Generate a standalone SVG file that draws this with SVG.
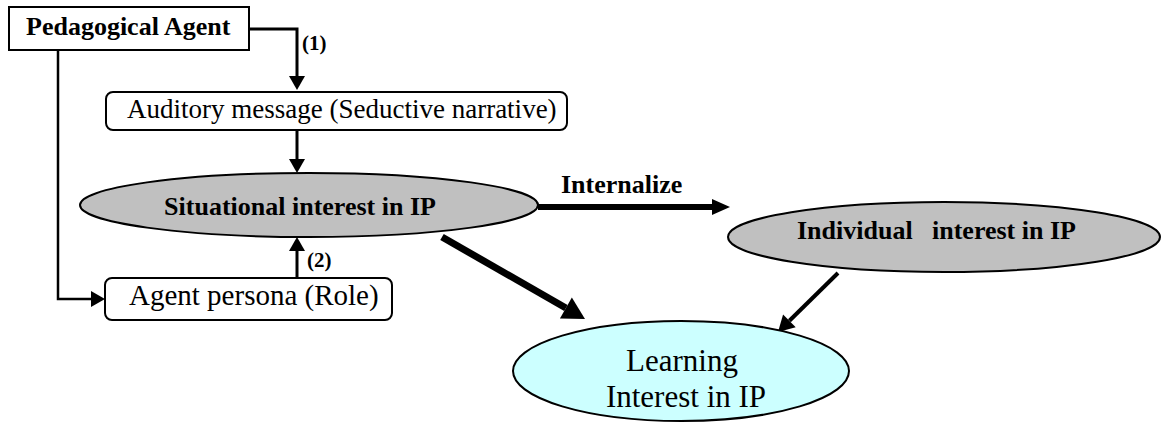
<svg xmlns="http://www.w3.org/2000/svg" width="1161" height="423" viewBox="0 0 1161 423">
<style>
.box{fill:#fff;stroke:#000;stroke-width:2}
.ell{fill:#c0c0c0;stroke:#000;stroke-width:2}
.ell2{fill:#ccffff;stroke:#000;stroke-width:2}
.b{font-family:"Liberation Serif","Times New Roman",serif;font-weight:bold;fill:#000}
.r{font-family:"Liberation Serif","Times New Roman",serif;fill:#000}
.c{fill:none;stroke:#000}
</style>
<defs>
<marker id="hS" markerUnits="userSpaceOnUse" markerWidth="14" markerHeight="16" refX="0" refY="8" orient="auto" overflow="visible"><path d="M0,0 L14,8 L0,16 z" fill="#000"/></marker>
<marker id="hM" markerUnits="userSpaceOnUse" markerWidth="18" markerHeight="16" refX="0" refY="8" orient="auto" overflow="visible"><path d="M0,0 L18,8 L0,16 z" fill="#000"/></marker>
<marker id="hL" markerUnits="userSpaceOnUse" markerWidth="22" markerHeight="24" refX="0" refY="12" orient="auto" overflow="visible"><path d="M0,0 L22,12 L0,24 z" fill="#000"/></marker>
<marker id="hI" markerUnits="userSpaceOnUse" markerWidth="16" markerHeight="18" refX="0" refY="9" orient="auto" overflow="visible"><path d="M0,0 L16,9 L0,18 z" fill="#000"/></marker>
</defs>
<g id="connectors">
<path class="c" d="M249,29 H297 V76" stroke-width="3" marker-end="url(#hS)"/>
<path class="c" d="M297,130 V159" stroke-width="3" marker-end="url(#hS)"/>
<path class="c" d="M297,278 V251" stroke-width="3" marker-end="url(#hS)"/>
<path class="c" d="M58,50 V299 H91" stroke-width="2.5" marker-end="url(#hS)"/>
<path class="c" d="M538,207 H712" stroke-width="6" marker-end="url(#hM)"/>
<path class="c" d="M442,237 L565.9,308" stroke-width="7" marker-end="url(#hL)"/>
<path class="c" d="M838,273 L789.4,320.8" stroke-width="4" marker-end="url(#hI)"/>
<text class="b" x="302" y="50" font-size="21">(1)</text>
<text class="b" x="307" y="267" font-size="21">(2)</text>
<text class="b" x="561" y="193" font-size="26">Internalize</text>
</g>
<g id="pedagogical-agent">
<rect class="box" x="9" y="7" width="240" height="43"/>
<text class="b" x="26" y="35" font-size="26">Pedagogical Agent</text>
</g>
<g id="auditory-message">
<rect class="box" x="106" y="92" width="461" height="38" rx="7"/>
<text class="r" x="127" y="118" font-size="27">Auditory message (Seductive narrative)</text>
</g>
<g id="situational-interest">
<ellipse class="ell" cx="309" cy="205" rx="229" ry="32"/>
<text class="b" x="300" y="215" font-size="26" text-anchor="middle">Situational interest in IP</text>
</g>
<g id="agent-persona">
<rect class="box" x="105" y="278" width="287" height="42" rx="7"/>
<text class="r" x="129" y="305" font-size="29">Agent persona (Role)</text>
</g>
<g id="individual-interest">
<ellipse class="ell" cx="944" cy="237" rx="216" ry="35"/>
<text class="b" x="797" y="239" font-size="26">Individual</text>
<text class="b" x="932" y="239" font-size="26">interest in IP</text>
</g>
<g id="learning-interest">
<ellipse class="ell2" cx="681" cy="371" rx="168" ry="50"/>
<text class="r" x="682" y="371" font-size="31" text-anchor="middle">Learning</text>
<text class="r" x="686" y="407" font-size="31" text-anchor="middle">Interest in IP</text>
</g>
</svg>
